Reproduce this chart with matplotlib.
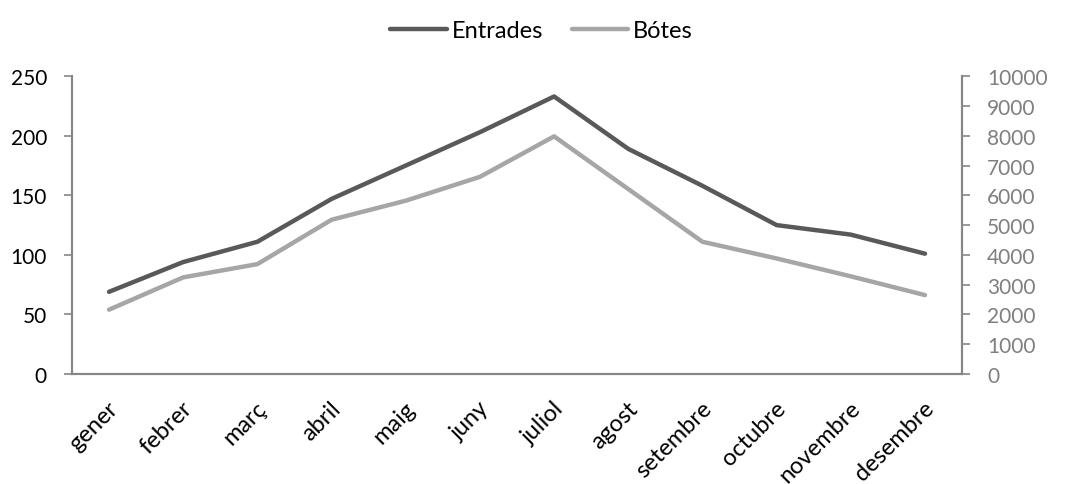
import matplotlib
matplotlib.use("Agg")
import matplotlib.pyplot as plt
from matplotlib.transforms import ScaledTranslation

months = ["gener", "febrer", "març", "abril", "maig", "juny",
          "juliol", "agost", "setembre", "octubre", "novembre", "desembre"]
entrades = [69, 94, 111, 147, 175, 203, 233, 189, 158, 125, 117, 101]
botes = [2160, 3245, 3690, 5180, 5820, 6620, 7980, 6210, 4440, 3880, 3280, 2650]

left_ticks = [0, 50, 100, 150, 200, 250]
right_ticks = list(range(0, 10001, 1000))

plt.rcParams['font.family'] = ['Lato', 'DejaVu Sans']
axis_grey = '#868686'

fig = plt.figure(figsize=(10.66, 4.85), dpi=100)
ax = fig.add_axes([0.0675, 0.2268, 0.835, 0.614])
ax2 = ax.twinx()

x = range(len(months))
l1, = ax.plot(x, entrades, color='#595959', lw=3.2, solid_capstyle='round',
              solid_joinstyle='round', label='Entrades', zorder=3)
l2, = ax2.plot(x, botes, color='#a6a6a6', lw=3.2, solid_capstyle='round',
               solid_joinstyle='round', label='Bótes', zorder=2)

ax.set_xlim(-0.5, len(months) - 0.5)
ax.set_ylim(0, 250)
ax2.set_ylim(0, 10000)
ax.set_yticks(left_ticks)
ax2.set_yticks(right_ticks)

ax.set_xticks(list(x))
ax.set_xticklabels(months, rotation=45, ha='right', va='center',
                   rotation_mode='anchor', fontsize=17)
ax.tick_params(axis='x', length=0, pad=22)
ax.tick_params(axis='y', colors=axis_grey, labelcolor='black', labelsize=15,
               length=6, width=1.2, pad=12)
ax2.tick_params(axis='y', colors=axis_grey, labelcolor='#7f7f7f', labelsize=15,
                length=6, width=1.2, pad=12)

# nudge the rotated labels a little to the right (after tick_params, which resets transforms)
shift = ScaledTranslation(6 / 100, 0, fig.dpi_scale_trans)
for tick in ax.xaxis.get_major_ticks():
    tick.label1.set_transform(tick.label1.get_transform() + shift)

for a in (ax, ax2):
    a.spines['top'].set_visible(False)
    for s in ('left', 'right', 'bottom'):
        a.spines[s].set_color(axis_grey)
        a.spines[s].set_linewidth(1.5)

fig.legend([l1, l2], ['Entrades', 'Bótes'], loc='upper center',
           bbox_to_anchor=(0.508, 1.0), ncol=2, frameon=False, fontsize=17,
           handlelength=2.4, handletextpad=0.2, columnspacing=1.2)

fig.savefig("out.png", dpi=100)
